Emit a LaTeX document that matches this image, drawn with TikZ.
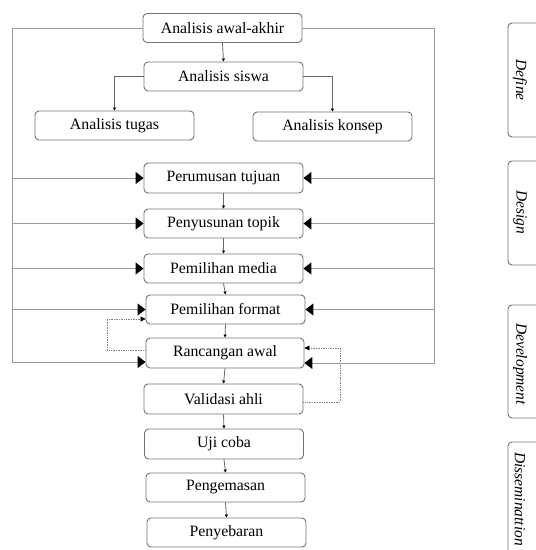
\documentclass[tikz,border=0pt]{standalone}
\usepackage{fontspec}
\setmainfont{Liberation Serif}
\usetikzlibrary{arrows.meta,calc}
\begin{document}
\begin{tikzpicture}[x=1pt,y=-1pt,
  box/.style={draw=black!55,line width=0.9pt,rounded corners=4pt,minimum width=159pt,minimum height=29pt,inner sep=0pt,font=\fontsize{15.8}{18}\selectfont},
  sidebox/.style={draw=black!55,line width=0.9pt,rounded corners=4pt},
  sidelabel/.style={rotate=-90,inner sep=0pt,font=\fontsize{15.5}{18}\selectfont\itshape},
  frame/.style={draw=black!40,line width=1pt},
  bigtip/.style={-{Triangle[length=8pt,width=12pt,color=black]}},
  smalltip/.style={draw=black!60,line width=0.8pt,-{Triangle[length=3pt,width=3pt,color=black]}},
  dotline/.style={draw=black!50,line width=0.7pt,densely dotted,-{Triangle[length=5pt,width=5pt,color=black]}}]
\path[use as bounding box,clip] (0,0) rectangle (536,550);
% main boxes
\node[box] (aa) at (222.5,28) {Analisis awal-akhir};
\node[box] (as) at (223.5,76.5) {Analisis siswa};
\node[box] (at) at (114.5,125.5) {Analisis tugas};
\node[box] (ak) at (332.5,126.5) {Analisis konsep};
\node[box,minimum height=30pt] (pt) at (223.5,178) {Perumusan tujuan};
\node[box] (ps) at (223.5,223.5) {Penyusunan topik};
\node[box] (pm) at (223.5,268.5) {Pemilihan media};
\node[box] (pf) at (225.5,309.5) {Pemilihan format};
\node[box,minimum width=158pt,minimum height=30pt] (ra) at (225,353) {Rancangan awal};
\node[box,minimum height=30pt] (va) at (223.5,399) {Validasi ahli};
\node[box,minimum height=30pt] (uc) at (224,444) {Uji coba};
\node[box] (pg) at (225.5,487.5) {Pengemasan};
\node[box] (py) at (226.5,532.5) {Penyebaran};
% top connectors
\draw[smalltip] (aa.south) -- (as.north);
\draw[smalltip] (as.west) -| (at.north);
\draw[smalltip] (as.east) -| (ak.north);
% chain
\draw[smalltip] (pt.south) -- (ps.north);
\draw[smalltip] (ps.south) -- (pm.north);
\draw[smalltip] (pm.south) -- (pf.north);
\draw[smalltip] (pf.south) -- (ra.north);
\draw[smalltip] (ra.south) -- (va.north);
\draw[smalltip] (va.south) -- (uc.north);
\draw[smalltip] (uc.south) -- (pg.north);
\draw[smalltip] (pg.south) -- (py.north);
% frame
\coordinate (lcb) at (12,362);
\coordinate (rcb) at (434,363);
\draw[frame,bigtip] (aa.west) -| (lcb) -- ($(ra.west)+(0,9)$);
\draw[frame,bigtip] (aa.east) -| (rcb) -- ($(ra.east)+(0,10)$);
\foreach \n in {pt,ps,pm,pf}{
  \draw[frame,bigtip] (\n.west -| lcb) -- (\n.west);
  \draw[frame,bigtip] (\n.east -| rcb) -- (\n.east);
}
% dotted feedback
\coordinate (dl) at (107,319);
\coordinate (dr) at (340,348);
\draw[dotline] ($(ra.west)+(0,-3)$) -| (dl) -- ($(pf.west)+(0,9.5)$);
\draw[dotline] ($(va.east)+(0,3)$) -| (dr) -- ($(ra.east)+(0,-5)$);
% side phase boxes
\draw[sidebox] (508,23) rectangle (570,137);
\node[sidelabel] (lD) at (520,80) {Define};
\draw[sidebox] (508,161) rectangle (570,265);
\node[sidelabel] (lDe) at (520,212) {Design};
\draw[sidebox] (508,305) rectangle (570,418);
\node[sidelabel] (lDv) at (520,364) {Development};
\draw[sidebox] (508,442) rectangle (570,580);
\node[sidelabel,anchor=west] (lDs) at (520,452) {Disseminattion};
\end{tikzpicture}
\end{document}
